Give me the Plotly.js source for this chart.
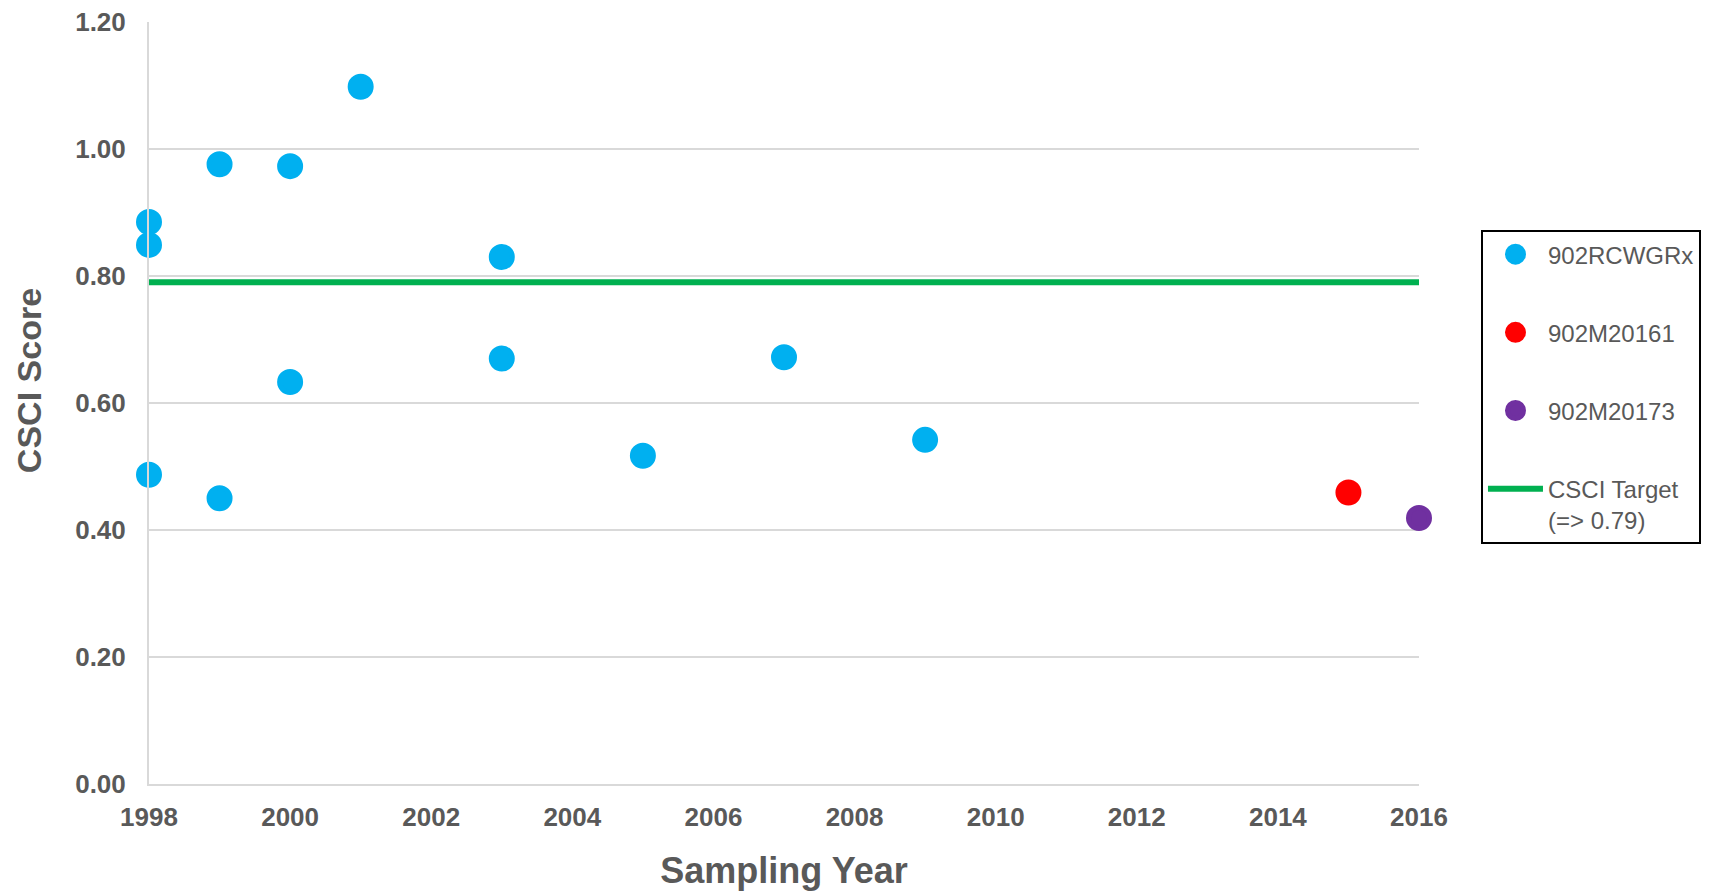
<!DOCTYPE html>
<html>
<head>
<meta charset="utf-8">
<script src="https://cdn.plot.ly/plotly-3.0.1.min.js"></script>
<style>html,body{margin:0;padding:0;background:#fff;}#chart{width:1713px;height:891px;}</style>
</head>
<body>
<div id="chart"></div>
<script>
const blueYears = [1998, 1998, 1998, 1999, 1999, 2000, 2000, 2001, 2003, 2003, 2005, 2007, 2009];
const blueScores = [0.885, 0.849, 0.487, 0.976, 0.450, 0.973, 0.633, 1.098, 0.830, 0.670, 0.517, 0.672, 0.542];
const redYears = [2015];
const redScores = [0.459];
const purpleYears = [2016];
const purpleScores = [0.419];
const targetYears = [1998, 2016];
const targetScores = [0.79, 0.79];
const yTickVals = [0, 0.2, 0.4, 0.6, 0.8, 1.0, 1.2];
const xTickVals = [1998, 2000, 2002, 2004, 2006, 2008, 2010, 2012, 2014, 2016];

const FONT = "Liberation Sans, Arial, sans-serif";
const GREY = "#595959";

function dot(color) {
  return {color: color, size: 21, line: {color: color, width: 5}};
}

const traces = [
  {x: targetYears, y: targetScores, type: 'scatter', mode: 'lines', name: 'CSCI Target<br>(=> 0.79)',
   line: {color: '#00B050', width: 6}, legendrank: 4, legendgroup: 'd', cliponaxis: false},
  {x: blueYears, y: blueScores, type: 'scatter', mode: 'markers', name: '902RCWGRx',
   marker: dot('#00B0F0'), legendrank: 1, legendgroup: 'a', cliponaxis: false},
  {x: redYears, y: redScores, type: 'scatter', mode: 'markers', name: '902M20161',
   marker: dot('#FF0000'), legendrank: 2, legendgroup: 'b', cliponaxis: false},
  {x: purpleYears, y: purpleScores, type: 'scatter', mode: 'markers', name: '902M20173',
   marker: dot('#7030A0'), legendrank: 3, legendgroup: 'c', cliponaxis: false}
];

const layout = {
  width: 1713, height: 891,
  margin: {l: 149, r: 294, t: 22, b: 107},
  paper_bgcolor: '#fff', plot_bgcolor: '#fff',
  font: {family: FONT, color: GREY},
  showlegend: true,
  legend: {
    x: 1.0488, y: 0.727, xanchor: 'left', yanchor: 'top',
    bordercolor: '#000', borderwidth: 2, bgcolor: '#fff',
    font: {family: FONT, size: 24, color: GREY},
    tracegroupgap: 44, valign: 'top', itemwidth: 55,
    traceorder: 'grouped'
  },
  xaxis: {
    range: [1998, 2016], tickvals: xTickVals, ticktext: xTickVals.map(String),
    showgrid: false, zeroline: false, showline: true, linecolor: '#D9D9D9', linewidth: 2,
    ticks: '', ticklabelstandoff: 9,
    tickfont: {family: FONT, size: 26, color: GREY, weight: 'bold'},
    title: {text: 'Sampling Year', font: {family: FONT, size: 36, color: GREY, weight: 'bold'}, standoff: 28}
  },
  yaxis: {
    range: [0, 1.2], tickvals: yTickVals, tickformat: '.2f',
    showgrid: true, gridcolor: '#D9D9D9', gridwidth: 1.5, zeroline: false,
    showline: true, linecolor: '#D9D9D9', linewidth: 2,
    ticks: '', ticklabelstandoff: 16,
    tickfont: {family: FONT, size: 26, color: GREY, weight: 'bold'}
  },
  annotations: [{
    text: 'CSCI Score', textangle: -90, showarrow: false,
    xref: 'paper', yref: 'paper', x: -0.0945, y: 0.530, xanchor: 'center', yanchor: 'middle',
    font: {family: FONT, size: 34, color: GREY, weight: 'bold'}
  }]
};

Plotly.newPlot('chart', traces, layout, {displayModeBar: false, staticPlot: true});
</script>
</body>
</html>
